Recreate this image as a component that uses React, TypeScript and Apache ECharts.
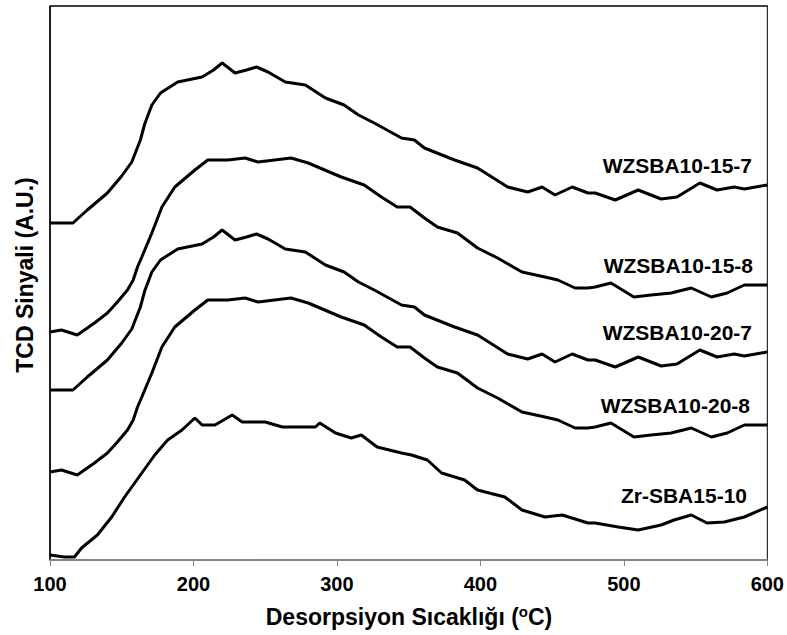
import React, { useEffect, useRef } from "react";
import * as echarts from "echarts";

// Temperature (°C) and TCD signal (arbitrary units)
const t157 = [100,116,126,140,150,157,163,166,171,177,189,206,214,220,229,237,244,252,264,278,292,305,315,326,345,354,361,382,398,419,433,443,452,464,475,480,494,510,526,537,553,565,577,584,600];
const v157 = [337,337,350,367,384,398,420,436,455,467,478,483,490,497,487,490,493,488,478,475,462,455,445,437,422,420,412,400,392,373,368,373,365,373,367,367,360,370,361,363,377,370,373,371,375];

const t158 = [100,108,119,131,140,147,154,158,161,164,171,178,187,201,210,224,236,245,268,280,303,319,331,342,351,361,370,384,398,412,429,445,454,466,475,480,491,507,519,533,547,561,572,584,600];
const v158 = [228,230,225,237,247,258,270,280,293,303,327,353,373,390,400,400,402,398,402,397,383,375,363,353,353,342,333,327,312,302,288,283,280,272,272,273,277,263,265,267,272,263,267,275,275];

const t207 = [100,116,126,140,150,157,163,166,171,177,189,206,214,220,229,237,244,252,264,278,292,305,315,326,345,354,361,382,398,419,433,443,452,464,475,480,494,510,526,537,553,565,577,584,600];
const v207 = [170,170,183,200,217,231,253,269,288,300,311,316,323,330,320,323,326,321,311,308,295,288,278,270,255,253,245,233,225,206,201,206,198,206,200,200,193,203,194,196,210,203,206,204,208];

const t208 = [100,108,119,131,140,147,154,158,161,164,171,178,187,201,210,224,236,245,268,280,303,319,331,342,351,361,370,384,398,412,429,445,454,466,475,480,491,507,519,533,547,561,572,584,600];
const v208 = [88,90,85,97,107,118,130,140,153,163,187,213,233,250,260,260,262,258,262,257,243,235,223,213,213,202,193,187,172,162,148,143,140,132,132,133,137,123,125,127,132,123,127,135,135];

const tZr = [100,110,117,122,133,143,152,164,173,182,192,201,206,215,227,234,250,262,285,288,299,310,317,328,345,352,363,373,389,398,417,429,445,457,475,480,496,510,526,535,547,558,570,584,600];
const vZr = [5,3,3,12,25,43,63,87,105,120,130,142,135,135,145,138,138,133,133,137,127,122,125,113,107,105,100,87,80,70,63,50,43,45,37,37,33,30,35,40,45,37,38,43,53];

const seriesNames = ["WZSBA10-15-7", "WZSBA10-15-8", "WZSBA10-20-7", "WZSBA10-20-8", "Zr-SBA15-10"];
const xTicks = [100, 200, 300, 400, 500, 600];

function pairs(t: number[], v: number[]) {
  return t.map((x, i) => [x, v[i]]);
}

export default function App() {
  const ref = useRef<HTMLDivElement>(null);
  useEffect(() => {
    if (!ref.current) return;
    const chart = echarts.init(ref.current, undefined, { renderer: "svg" });
    const font = "'Liberation Sans', Arial, sans-serif";
    const all = [pairs(t157, v157), pairs(t158, v158), pairs(t207, v207), pairs(t208, v208), pairs(tZr, vZr)];
    const labelPos = [
      [752, 165],
      [753, 265],
      [752, 332],
      [750, 405],
      [747, 495],
    ];
    chart.setOption({
      animation: false,
      backgroundColor: "#ffffff",
      grid: {
        left: 50,
        right: 19,
        top: 6,
        bottom: 75,
        containLabel: false,
        show: true,
        borderColor: "#000",
        borderWidth: 1,
        backgroundColor: "transparent",
      },
      xAxis: {
        type: "value",
        min: xTicks[0],
        max: xTicks[xTicks.length - 1],
        interval: 100,
        position: "bottom",
        axisLine: { show: true, onZero: false, lineStyle: { color: "#868686", width: 1.5 } },
        axisTick: { show: true, length: 6, lineStyle: { color: "#868686", width: 1 } },
        axisLabel: {
          show: true,
          margin: 14,
          color: "#000",
          fontSize: 20,
          fontWeight: "bold",
          fontFamily: font,
        },
        splitLine: { show: false },
      },
      yAxis: {
        type: "value",
        min: 0,
        max: 554,
        position: "left",
        axisLine: { show: true, onZero: false, lineStyle: { color: "#000", width: 1.5 } },
        axisTick: { show: false },
        axisLabel: { show: false },
        splitLine: { show: false },
      },
      series: all.map((d, i) => ({
        name: seriesNames[i],
        type: "line",
        data: d,
        showSymbol: false,
        symbol: "none",
        lineStyle: { color: "#000", width: 3 },
      })),
      graphic: [
        {
          type: "line",
          shape: { x1: 50, y1: 6, x2: 768, y2: 6 },
          style: { stroke: "#000", lineWidth: 1.2 },
          z: 10,
        },
        ...seriesNames.map((n, i) => ({
          type: "text",
          x: labelPos[i][0],
          y: labelPos[i][1],
          style: {
            text: n,
            fill: "#000",
            font: `bold 21px ${font}`,
            textAlign: "right",
            textVerticalAlign: "middle",
          },
        })),
        {
          type: "text",
          x: 409,
          y: 617,
          style: {
            text: "{a|Desorpsiyon Sıcaklığı (}{s|o}{a|C)}",
            textAlign: "center",
            textVerticalAlign: "middle",
            rich: {
              a: { fontSize: 23, fontWeight: "bold", fontFamily: font, fill: "#000", lineHeight: 26 },
              s: { fontSize: 15, fontWeight: "bold", fontFamily: font, fill: "#000", lineHeight: 26, verticalAlign: "top", padding: [0, 0, 6, 0] },
            },
          },
        },
        {
          type: "text",
          x: 25,
          y: 275,
          rotation: Math.PI / 2,
          style: {
            text: "TCD Sinyali (A.U.)",
            fill: "#000",
            font: `bold 23px ${font}`,
            textAlign: "center",
            textVerticalAlign: "middle",
          },
        },
      ],
    });
    return () => chart.dispose();
  }, []);
  return (
    <div
      ref={ref}
      style={{ position: "absolute", left: 0, top: 0, width: 787, height: 635, background: "#fff" }}
    />
  );
}
